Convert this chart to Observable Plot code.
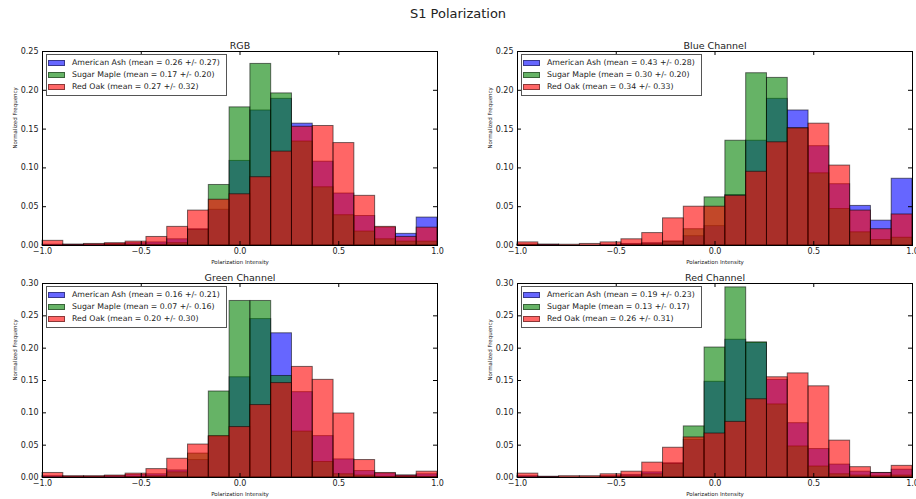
<!DOCTYPE html>
<html>
<head>
<meta charset="utf-8">
<script src="https://cdn.jsdelivr.net/npm/d3@7"></script>
<script src="https://cdn.jsdelivr.net/npm/@observablehq/plot@0.6"></script>
<style>
  body { margin: 0; background: #fff; font-family: "DejaVu Sans", sans-serif; }
  #fig { position: relative; width: 916px; height: 499px; overflow: hidden; background: #fff; }
  #title { position: absolute; top: 6px; left: 0; width: 916px; text-align: center; font-size: 13px; color: #222; }
  .panel { position: absolute; }
  .legend { position: absolute; border: 1px solid #555; background: #fff; padding: 2px 6px 2px 1px;
            font-size: 7.8px; color: #222; line-height: 12px; }
  .legend .row { display: flex; align-items: center; white-space: nowrap; }
  .legend .sw { width: 17px; height: 6px; margin-right: 7px; box-sizing: border-box; border: 1px solid rgba(0,0,0,0.45); }
</style>
</head>
<body>
<div id="fig"><div id="title">S1 Polarization</div></div>
<script>
// Normalized histogram frequencies, 19 equal bins spanning [-1, 1]
const species = ["American Ash", "Sugar Maple", "Red Oak"];
const speciesColors = ["#0000ff", "#008000", "#ff0000"];

const rgbAsh   = [0.001,0.001,0.001,0.002,0.003,0.004,0.008,0.021,0.046,0.109,0.174,0.189,0.157,0.108,0.067,0.038,0.023,0.015,0.036];
const rgbMaple = [0,0,0,0.001,0.001,0.001,0.003,0.020,0.078,0.178,0.234,0.196,0.134,0.075,0.039,0.018,0.008,0.005,0.005];
const rgbOak   = [0.006,0.001,0.002,0.003,0.005,0.011,0.024,0.045,0.059,0.066,0.088,0.121,0.153,0.154,0.132,0.064,0.024,0.011,0.023];

const blueAsh   = [0.001,0.001,0,0,0.001,0.002,0.003,0.005,0.012,0.025,0.065,0.135,0.189,0.174,0.128,0.079,0.051,0.032,0.086];
const blueMaple = [0.001,0,0,0,0,0.001,0.002,0.005,0.021,0.062,0.135,0.222,0.216,0.151,0.093,0.047,0.017,0.007,0.010];
const blueOak   = [0.004,0.001,0.001,0.002,0.004,0.008,0.016,0.035,0.050,0.050,0.064,0.095,0.133,0.151,0.157,0.103,0.045,0.021,0.040];

const greenAsh   = [0.002,0.001,0.001,0.002,0.004,0.005,0.011,0.027,0.063,0.155,0.245,0.223,0.132,0.064,0.028,0.010,0.006,0.003,0.005];
const greenMaple = [0,0,0,0,0.001,0.002,0.008,0.037,0.133,0.273,0.273,0.157,0.071,0.024,0.005,0.003,0.001,0.001,0.001];
const greenOak   = [0.007,0.002,0.002,0.003,0.006,0.013,0.029,0.051,0.064,0.078,0.112,0.146,0.171,0.151,0.099,0.027,0.007,0.003,0.009];

const redAsh   = [0.002,0.001,0,0,0.002,0.004,0.008,0.022,0.058,0.148,0.213,0.208,0.151,0.084,0.044,0.020,0.009,0.007,0.012];
const redMaple = [0,0,0,0,0.001,0.002,0.005,0.021,0.079,0.201,0.294,0.209,0.113,0.048,0.017,0.005,0.003,0.002,0.003];
const redOak   = [0.006,0.001,0.002,0.002,0.005,0.009,0.023,0.046,0.062,0.068,0.086,0.121,0.155,0.161,0.141,0.057,0.016,0.007,0.018];

// mean and standard deviation per species, as printed in each legend
const rgbStats   = [[0.26, 0.27], [0.17, 0.20], [0.27, 0.32]];
const blueStats  = [[0.43, 0.28], [0.30, 0.20], [0.34, 0.33]];
const greenStats = [[0.16, 0.21], [0.07, 0.16], [0.20, 0.30]];
const redStats   = [[0.19, 0.23], [0.13, 0.17], [0.26, 0.31]];

const panelTitles = ["RGB", "Blue Channel", "Green Channel", "Red Channel"];
const xTicks = [-1, -0.5, 0, 0.5, 1];
const yTicksTop = [0, 0.05, 0.10, 0.15, 0.20, 0.25];
const yTicksBottom = [0, 0.05, 0.10, 0.15, 0.20, 0.25, 0.30];

const nBins = 19;
const binWidth = 2 / nBins;
const binTable = vals => vals.map((v, i) => ({x1: -1 + i * binWidth, x2: -1 + (i + 1) * binWidth, y: v}));

const panels = [
  {title: panelTitles[0], series: [rgbAsh, rgbMaple, rgbOak],       stats: rgbStats,   yTicks: yTicksTop},
  {title: panelTitles[1], series: [blueAsh, blueMaple, blueOak],    stats: blueStats,  yTicks: yTicksTop},
  {title: panelTitles[2], series: [greenAsh, greenMaple, greenOak], stats: greenStats, yTicks: yTicksBottom},
  {title: panelTitles[3], series: [redAsh, redMaple, redOak],       stats: redStats,   yTicks: yTicksBottom}
];

// grid layout: column and row placement of each panel's SVG
const cols = [{left: 0, width: 458, ml: 42, mr: 21}, {left: 458, width: 458, ml: 59, mr: 4}];
const rows = [{top: 25, height: 250, mt: 26, mb: 30}, {top: 258, height: 241, mt: 25, mb: 22}];

const fig = document.getElementById("fig");
const fmtX = d3.format(".1f");
const fmtY = d3.format(".2f");

panels.forEach((p, idx) => {
  const c = cols[idx % 2], r = rows[Math.floor(idx / 2)];
  const fw = c.width - c.ml - c.mr;
  const fh = r.height - r.mt - r.mb;
  const yMax = p.yTicks[p.yTicks.length - 1];

  const chart = Plot.plot({
    width: c.width, height: r.height,
    marginLeft: c.ml, marginRight: c.mr, marginTop: r.mt, marginBottom: r.mb,
    style: {background: "transparent", overflow: "visible", fontFamily: "DejaVu Sans, sans-serif", color: "#222"},
    x: {domain: [-1, 1]},
    y: {domain: [0, yMax]},
    marks: [
      ...p.series.map((vals, s) => Plot.rectY(binTable(vals), {
        x1: "x1", x2: "x2", y: "y",
        fill: speciesColors[s], fillOpacity: 0.6,
        stroke: "#000", strokeOpacity: 0.55, strokeWidth: 1
      })),
      Plot.frame({stroke: "#000", strokeWidth: 1}),
      // inward ticks on all four spines
      Plot.tickX(xTicks, {x: d => d, insetTop: fh - 4, stroke: "#000"}),
      Plot.tickX(xTicks, {x: d => d, insetBottom: fh - 4, stroke: "#000"}),
      Plot.tickY(p.yTicks, {y: d => d, insetRight: fw - 4, stroke: "#000"}),
      Plot.tickY(p.yTicks, {y: d => d, insetLeft: fw - 4, stroke: "#000"}),
      Plot.axisX(xTicks, {tickSize: 0, tickPadding: 3, tickFormat: fmtX, fontSize: 8, label: null}),
      Plot.axisY(p.yTicks, {tickSize: 0, tickPadding: 4, tickFormat: fmtY, fontSize: 8, label: null}),
      Plot.text([p.title], {text: d => d, frameAnchor: "top", lineAnchor: "middle", dy: -6, fontSize: 9.5, fill: "#222"}),
      Plot.text(["Polarization Intensity"], {text: d => d, frameAnchor: "bottom", lineAnchor: "middle", dy: 17, fontSize: 5.5, fill: "#222"}),
      Plot.text(["Normalized Frequency"], {text: d => d, frameAnchor: "left", dx: -27, rotate: -90, fontSize: 5.5, fill: "#222"})
    ]
  });
  chart.classList.add("panel");
  chart.style.left = c.left + "px";
  chart.style.top = r.top + "px";
  fig.appendChild(chart);

  const legend = document.createElement("div");
  legend.className = "legend";
  legend.style.left = (c.left + c.ml + 4) + "px";
  legend.style.top = (r.top + r.mt + 3) + "px";
  species.forEach((name, s) => {
    const row = document.createElement("div");
    row.className = "row";
    const sw = document.createElement("span");
    sw.className = "sw";
    sw.style.background = d3.color(speciesColors[s]).copy({opacity: 0.6}).formatRgb();
    const label = document.createElement("span");
    const [m, sd] = p.stats[s];
    label.textContent = `${name} (mean = ${m.toFixed(2)} +/- ${sd.toFixed(2)})`;
    row.appendChild(sw);
    row.appendChild(label);
    legend.appendChild(row);
  });
  fig.appendChild(legend);
});
</script>
</body>
</html>
